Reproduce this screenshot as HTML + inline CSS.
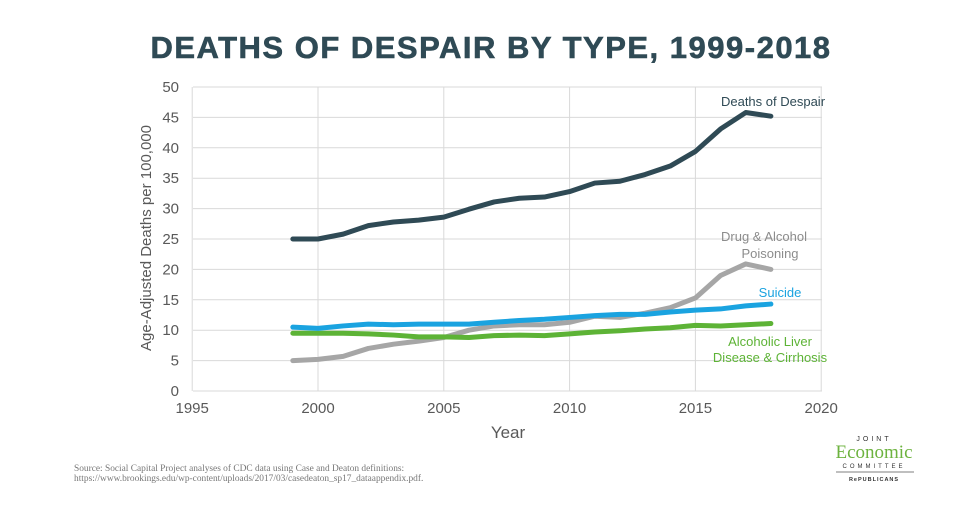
<!DOCTYPE html>
<html><head><meta charset="utf-8"><style>
body{margin:0;width:980px;height:518px;background:#fff;overflow:hidden;font-family:"Liberation Sans",sans-serif;}
</style></head><body>
<svg id="s" width="980" height="518" xmlns="http://www.w3.org/2000/svg" font-family="Liberation Sans, sans-serif">
<text x="491" y="58" text-anchor="middle" font-size="31" font-weight="bold" fill="#2f4a55" letter-spacing="1.5" stroke="#2f4a55" stroke-width="0.6">DEATHS OF DESPAIR BY TYPE, 1999-2018</text>
<g id="grid" stroke="#d9d9d9" stroke-width="1"></g>
<g id="ticks" font-size="15" fill="#595959"></g>
<text x="508" y="438" text-anchor="middle" font-size="17" fill="#595959">Year</text>
<text transform="translate(151,238) rotate(-90)" text-anchor="middle" font-size="15" fill="#595959">Age-Adjusted Deaths per 100,000</text>
<g id="lines" fill="none" stroke-width="5" stroke-linejoin="round" stroke-linecap="round"></g>
<text x="773" y="106" text-anchor="middle" font-size="13" fill="#2f4a55">Deaths of Despair</text>
<text x="764" y="241" text-anchor="middle" font-size="13" fill="#8c8c8c">Drug &amp; Alcohol</text>
<text x="770" y="258" text-anchor="middle" font-size="13" fill="#8c8c8c">Poisoning</text>
<text x="780" y="297" text-anchor="middle" font-size="13" fill="#1aa3e0">Suicide</text>
<text x="770" y="346" text-anchor="middle" font-size="13" fill="#5db336">Alcoholic Liver</text>
<text x="770" y="362" text-anchor="middle" font-size="13" fill="#5db336">Disease &amp; Cirrhosis</text>
<text x="74" y="471" font-size="9.4" fill="#777" font-family="Liberation Serif, serif">Source: Social Capital Project analyses of CDC data using Case and Deaton definitions:</text>
<text x="74" y="481" font-size="9.4" fill="#777" font-family="Liberation Serif, serif">https://www.brookings.edu/wp-content/uploads/2017/03/casedeaton_sp17_dataappendix.pdf.</text>
<text x="874" y="441" text-anchor="middle" font-size="7" letter-spacing="3" fill="#333">JOINT</text>
<text x="874" y="458" text-anchor="middle" font-size="19" fill="#6db33f" font-family="Liberation Serif, serif">Economic</text>
<text x="874" y="468" text-anchor="middle" font-size="6" letter-spacing="3" fill="#333">COMMITTEE</text>
<line x1="836" y1="472" x2="914" y2="472" stroke="#aaa" stroke-width="1.5"/>
<text x="874" y="481" text-anchor="middle" font-size="5.5" font-weight="bold" letter-spacing="1" fill="#333">RePUBLICANS</text>
</svg>
<script>
var X=function(y){return 318+(y-2000)*25.16},Y=function(v){return 391-v*6.08};
var g=document.getElementById('grid'),t=document.getElementById('ticks'),h='';
for(var v=0;v<=50;v+=5){h+='<line x1="193" x2="822" y1="'+Y(v)+'" y2="'+Y(v)+'"/>';}
for(var y=1995;y<=2020;y+=5){h+='<line x1="'+X(y)+'" x2="'+X(y)+'" y1="'+Y(50)+'" y2="'+Y(0)+'"/>';}
g.innerHTML=h;h='';
for(var v=0;v<=50;v+=5){h+='<text x="179" y="'+(Y(v)+5)+'" text-anchor="end">'+v+'</text>';}
for(var y=1995;y<=2020;y+=5){h+='<text x="'+X(y)+'" y="413" text-anchor="middle">'+y+'</text>';}
t.innerHTML=h;
var S=[["#a6a6a6",[5,5.2,5.7,7,7.7,8.2,8.8,10,10.7,10.9,10.9,11.3,12.3,12.1,12.8,13.7,15.3,19,20.9,20]],
["#5db336",[9.5,9.5,9.5,9.4,9.2,8.9,8.9,8.8,9.1,9.2,9.1,9.4,9.7,9.9,10.2,10.4,10.8,10.7,10.9,11.1]],
["#1aa3e0",[10.5,10.3,10.7,11,10.9,11,11,11,11.3,11.6,11.8,12.1,12.4,12.6,12.6,13,13.3,13.5,14,14.3]],
["#2f4a55",[25,25,25.8,27.2,27.8,28.1,28.6,29.9,31.1,31.7,31.9,32.8,34.2,34.5,35.6,37,39.4,43.1,45.8,45.2]]];
h='';S.forEach(function(s){h+='<polyline stroke="'+s[0]+'" points="'+s[1].map(function(v,i){return X(1999+i)+','+Y(v)}).join(' ')+'"/>';});
document.getElementById('lines').innerHTML=h;
</script>
</body></html>
